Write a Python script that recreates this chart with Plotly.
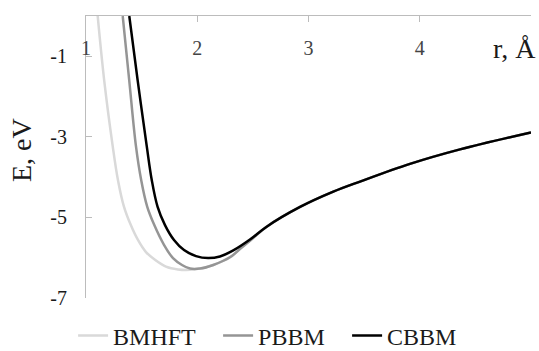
import plotly.graph_objects as go

# Series (r in Å, E in eV)
r_bmhft = [1.105, 1.164, 1.24, 1.287, 1.341, 1.403, 1.467, 1.539, 1.620, 1.719, 1.827, 1.935, 2.025,
           2.144, 2.294, 2.402, 2.474, 2.624, 2.924, 3.223, 3.463, 3.912, 4.362, 5.0]
e_bmhft = [0.0, -1.61, -3.23, -4.07, -4.73, -5.19, -5.56, -5.86, -6.05, -6.22, -6.29, -6.30, -6.27,
           -6.18, -5.99, -5.74, -5.58, -5.23, -4.74, -4.36, -4.11, -3.67, -3.31, -2.89]

r_pbbm = [1.33, 1.389, 1.449, 1.496, 1.550, 1.614, 1.701, 1.782, 1.863, 1.935, 2.025,
          2.144, 2.294, 2.402, 2.474, 2.624, 2.924, 3.223, 3.463, 3.912, 4.362, 5.0]
e_pbbm = [0.0, -1.61, -3.23, -4.07, -4.73, -5.19, -5.68, -6.01, -6.18, -6.27, -6.27,
          -6.18, -5.99, -5.74, -5.58, -5.23, -4.74, -4.36, -4.11, -3.67, -3.31, -2.89]

r_cbbm = [1.389, 1.465, 1.546, 1.591, 1.643, 1.710, 1.791, 1.881, 1.989, 2.097, 2.204, 2.324, 2.474,
          2.624, 2.924, 3.223, 3.463, 3.912, 4.362, 5.0]
e_cbbm = [0.0, -1.61, -3.23, -4.07, -4.73, -5.19, -5.56, -5.81, -5.96, -6.01, -5.97, -5.82, -5.55,
          -5.23, -4.74, -4.36, -4.11, -3.67, -3.31, -2.89]

series_names = ["BMHFT", "PBBM", "CBBM"]
series_colors = ["#d9d9d9", "#959595", "#000000"]
legend_widths = [100, 84, 70]

x_tickvals = [1, 2, 3, 4, 5]
x_ticktext = ["1", "2", "3", "4", ""]
y_tickvals = [-1, -3, -5, -7]
y_ticktext = ["-1", "-3", "-5", "-7"]

FONT = "Liberation Serif"
AXIS_COLOR = "#bcbcbc"

fig = go.Figure()
for name, xs, ys, col, lw in zip(series_names, [r_bmhft, r_pbbm, r_cbbm],
                                 [e_bmhft, e_pbbm, e_cbbm], series_colors, legend_widths):
    fig.add_trace(go.Scatter(x=xs, y=ys, mode="lines", name=name,
                             line=dict(color=col, width=2.5, shape="spline", smoothing=1.0),
                             legendwidth=lw, hoverinfo="skip"))

fig.update_layout(
    width=539, height=351,
    margin=dict(l=86, r=8, t=16, b=53, autoexpand=False),
    plot_bgcolor="white", paper_bgcolor="white",
    font=dict(family=FONT, size=20, color="#1a1a1a"),
    showlegend=True,
    legend=dict(orientation="h", x=-0.029, xanchor="left", y=-(336 - 298) / 282, yanchor="middle",
                font=dict(family=FONT, size=24, color="#1a1a1a"), itemwidth=30,
                bgcolor="rgba(0,0,0,0)"),
    xaxis=dict(side="top", range=[1, 5], tickvals=x_tickvals, ticktext=x_ticktext,
               ticks="inside", ticklen=6, tickcolor=AXIS_COLOR, showline=True,
               linecolor=AXIS_COLOR, linewidth=1, showgrid=False, zeroline=False,
               ticklabelposition="inside", ticklabelstandoff=20, ticklabeloverflow="allow",
               fixedrange=True),
    yaxis=dict(range=[-7, 0], tickvals=y_tickvals, ticktext=y_ticktext,
               ticks="inside", ticklen=6, tickcolor=AXIS_COLOR, showline=True,
               linecolor=AXIS_COLOR, linewidth=1, showgrid=False, zeroline=False,
               ticklabelstandoff=14, fixedrange=True),
)

fig.add_annotation(text="E, eV", xref="paper", yref="paper",
                   x=(21 - 86) / 445, y=(298 - 150) / 282, textangle=-90,
                   showarrow=False, font=dict(family=FONT, size=28, color="#1a1a1a"),
                   xanchor="center", yanchor="middle")
fig.add_annotation(text="r, Å", xref="paper", yref="paper",
                   x=(514 - 86) / 445, y=(298 - 48) / 282,
                   showarrow=False, font=dict(family=FONT, size=28, color="#1a1a1a"),
                   xanchor="center", yanchor="middle")

fig.write_html("out.html", config={"displayModeBar": False},
               post_script="document.body.style.margin='0';document.body.style.padding='0';")
